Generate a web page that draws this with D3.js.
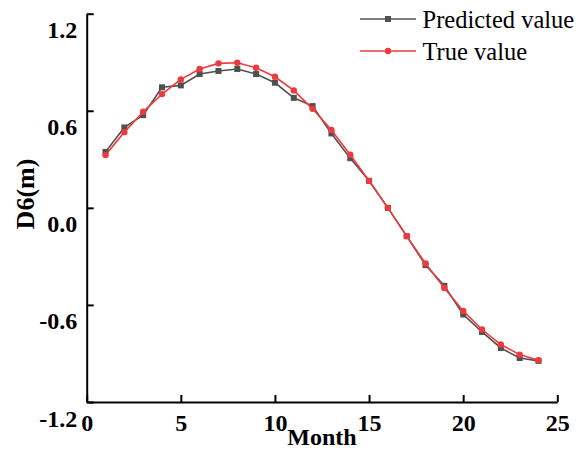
<!DOCTYPE html>
<html>
<head>
<meta charset="utf-8">
<script src="https://cdn.jsdelivr.net/npm/d3@7"></script>
<style>
  html, body { margin: 0; padding: 0; background: #fff; overflow: hidden; }
  svg { display: block; }
</style>
</head>
<body>
<div id="chart"></div>
<script>
const months = [1,2,3,4,5,6,7,8,9,10,11,12,13,14,15,16,17,18,19,20,21,22,23,24];
const predicted = [0.346,0.497,0.573,0.745,0.757,0.827,0.846,0.858,0.827,0.773,0.680,0.629,0.460,0.307,0.167,0.000,-0.175,-0.354,-0.482,-0.659,-0.767,-0.866,-0.928,-0.946];
const trueValue = [0.326,0.468,0.594,0.703,0.794,0.858,0.893,0.897,0.866,0.810,0.726,0.612,0.481,0.328,0.167,0.000,-0.175,-0.344,-0.495,-0.637,-0.752,-0.845,-0.907,-0.942];
const xTicks = [0,5,10,15,20,25];
const yTicks = [-1.2,-0.6,0.0,0.6,1.2];
const seriesNames = ["Predicted value","True value"];
const seriesColors = ["#505050","#ee3a3c"];

const W = 582, H = 450;
const x0 = 86.7, x1 = 557.3, yTop = 13.7, yBot = 402;

const svg = d3.select("#chart").append("svg").attr("width", W).attr("height", H);
const x = d3.scaleLinear().domain([0,25]).range([x0,x1]);
const y = d3.scaleLinear().domain([-1.2,1.2]).range([yBot,yTop]);

const font = "'Liberation Serif','Times New Roman',serif";
const fmtY = d => d.toFixed(1);
const fmtX = d => String(d);

// Y axis
const gy = svg.append("g").attr("transform", `translate(${x0},0)`)
  .call(d3.axisLeft(y).tickValues(yTicks).tickFormat(fmtY).tickSize(-7).tickSizeOuter(0));
gy.select(".domain").attr("stroke","#000").attr("stroke-width",2);
gy.selectAll(".tick line").attr("stroke","#000").attr("stroke-width",2);
gy.selectAll(".tick text").attr("x", -9.5).attr("y", 24).attr("dy", 0)
  .attr("font-family", font).attr("font-weight","bold").attr("font-size", 24).attr("fill","#000");

// X axis
const gx = svg.append("g").attr("transform", `translate(0,${yBot})`)
  .call(d3.axisBottom(x).tickValues(xTicks).tickFormat(fmtX).tickSize(-7).tickSizeOuter(0));
gx.select(".domain").attr("stroke","#000").attr("stroke-width",2);
gx.selectAll(".tick line").attr("stroke","#000").attr("stroke-width",2);
gx.selectAll(".tick text").attr("y", 28.7).attr("dy", 0)
  .attr("font-family", font).attr("font-weight","bold").attr("font-size", 24).attr("fill","#000");

// Axis titles
svg.append("text").attr("x", (x0+x1)/2).attr("y", 445).attr("text-anchor","middle")
  .attr("font-family", font).attr("font-weight","bold").attr("font-size", 24).text("Month");
svg.append("text").attr("transform", `translate(34,194) rotate(-90)`).attr("text-anchor","middle")
  .attr("font-family", font).attr("font-weight","bold").attr("font-size", 26).text("D6(m)");

const line = d3.line().x(d => x(d[0])).y(d => y(d[1]));
const series = [predicted, trueValue];

series.forEach((vals, i) => {
  const pts = months.map((m, j) => [m, vals[j]]);
  const g = svg.append("g");
  g.append("path").datum(pts).attr("d", line).attr("fill","none")
    .attr("stroke", seriesColors[i]).attr("stroke-width", 1.6);
  if (i === 0) {
    g.selectAll("rect").data(pts).enter().append("rect")
      .attr("x", d => x(d[0]) - 3).attr("y", d => y(d[1]) - 3)
      .attr("width", 6).attr("height", 6).attr("fill", seriesColors[i]);
  } else {
    g.selectAll("circle").data(pts).enter().append("circle")
      .attr("cx", d => x(d[0])).attr("cy", d => y(d[1])).attr("r", 3.2)
      .attr("fill", seriesColors[i]);
  }
});

// Legend
const legY = [19, 51];
seriesNames.forEach((name, i) => {
  const g = svg.append("g");
  g.append("line").attr("x1", 360).attr("x2", 416).attr("y1", legY[i]).attr("y2", legY[i])
    .attr("stroke", seriesColors[i]).attr("stroke-width", 1.6);
  if (i === 0) {
    g.append("rect").attr("x", 385).attr("y", legY[i]-3).attr("width", 6).attr("height", 6).attr("fill", seriesColors[i]);
  } else {
    g.append("circle").attr("cx", 388).attr("cy", legY[i]).attr("r", 3.2).attr("fill", seriesColors[i]);
  }
  g.append("text").attr("x", 422.5).attr("y", legY[i] + 8.5)
    .attr("font-family", font).attr("font-size", 24.5).attr("fill","#000").text(name);
});
</script>
</body>
</html>
